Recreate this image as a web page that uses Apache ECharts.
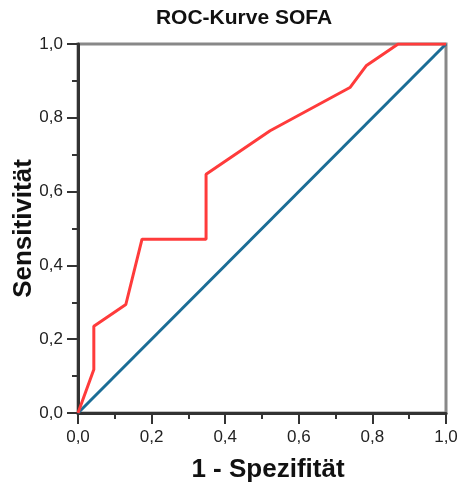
<!DOCTYPE html>
<html><head><meta charset="utf-8">
<script src="https://cdn.jsdelivr.net/npm/echarts@6/dist/echarts.min.js"></script>
<style>html,body{margin:0;padding:0;background:#fff}#c{width:461px;height:483px}</style>
</head><body><div id="c"></div>
<script>
var titleText = "ROC-Kurve SOFA";
var xName = "1 - Spezifität";
var yName = "Sensitivität";
var rocX = [0, 0.043, 0.043, 0.130, 0.174, 0.348, 0.348, 0.522, 0.739, 0.783, 0.870, 1.0];
var rocY = [0, 0.118, 0.235, 0.294, 0.471, 0.471, 0.647, 0.765, 0.882, 0.941, 1.0, 1.0];
var refX = [0, 1];
var refY = [0, 1];
var tickValues = [0, 0.2, 0.4, 0.6, 0.8, 1.0];

function pairs(xs, ys){ return xs.map(function(v,i){ return [v, ys[i]]; }); }
function fmt(v){ return v.toFixed(1).replace('.', ','); }

var chart = echarts.init(document.getElementById('c'), null, {renderer:'canvas'});
function axisCommon(margin){
  return {
  type: 'value', min: 0, max: 1, interval: 0.2,
  axisLine: {show: true, lineStyle: {color: '#333', width: 3}},
  axisTick: {show: true, length: 11, lineStyle: {color: '#333', width: 2}},
  minorTick: {show: true, splitNumber: 2, length: 6, lineStyle: {color: '#333', width: 2}},
  splitLine: {show: false},
  axisLabel: {formatter: fmt, color: '#222', fontSize: 17, fontFamily: 'Liberation Sans, Arial, sans-serif', margin: margin},
  nameLocation: 'middle',
  nameMoveOverlap: false,
  nameTextStyle: {fontSize: 26, fontWeight: 'bold', color: '#111', fontFamily: 'Liberation Sans, Arial, sans-serif'}
  };
}
var xAx = Object.assign(axisCommon(16), {name: xName, nameGap: 44});
xAx.nameTextStyle = Object.assign({}, xAx.nameTextStyle, {padding: [0, 0, 0, 12]});
chart.setOption({
  animation: false,
  backgroundColor: '#fff',
  title: {
    text: titleText, left: 239, top: 3, textAlign: 'center',
    textStyle: {fontSize: 21, fontWeight: 'bold', color: '#111', fontFamily: 'Liberation Sans, Arial, sans-serif'}
  },
  grid: {left: 78, right: 15, top: 44, bottom: 70, show: true, borderColor: '#888', borderWidth: 3,
         backgroundColor: 'transparent', containLabel: false, outerBoundsMode: 'none'},
  xAxis: xAx,
  yAxis: Object.assign(axisCommon(15), {name: yName, nameGap: 41}),
  series: [
    {type: 'line', data: pairs(refX, refY), symbol: 'none', lineStyle: {color: '#1b6d96', width: 3}, z: 2},
    {type: 'line', data: pairs(rocX, rocY), symbol: 'none', lineStyle: {color: '#ff3b3b', width: 3}, z: 3}
  ]
});
</script></body></html>
